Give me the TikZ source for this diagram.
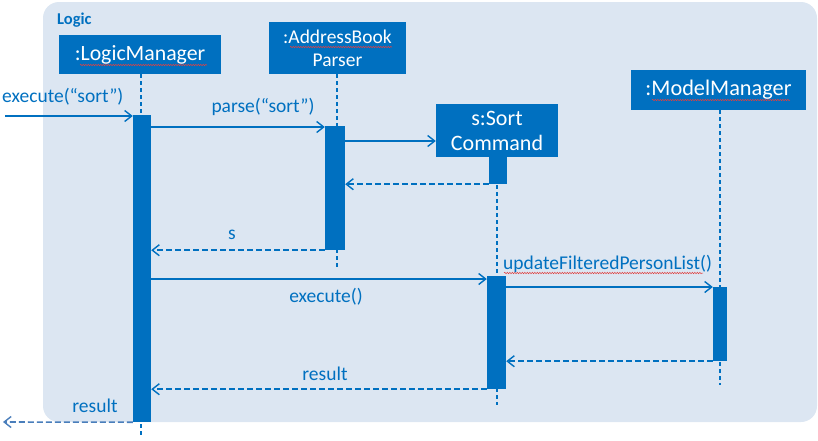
\documentclass[tikz,border=0pt]{standalone}
\usepackage{fontspec}
\setmainfont{Carlito}
\usetikzlibrary{arrows.meta,decorations.pathmorphing}
\definecolor{mblue}{HTML}{0070C0}
\definecolor{bgblue}{HTML}{DCE6F2}
\definecolor{lblue}{HTML}{4A7EBB}
\definecolor{sq}{HTML}{E04040}
\tikzset{
  obj/.style={fill=mblue, text=white, inner sep=0pt, align=center},
  act/.style={fill=mblue, inner sep=0pt},
  life/.style={draw=mblue, line width=1.5pt, dash pattern=on 4pt off 3pt},
  call/.style={draw=mblue, line width=1.6pt, -{Straight Barb[length=7pt,width=11pt,line width=1.4pt]}},
  ret/.style={draw=mblue, line width=1.6pt, dash pattern=on 6pt off 3pt, -{Straight Barb[length=7pt,width=11pt,line width=1.4pt]}},
  lbl/.style={text=mblue, inner sep=0pt, font=\fontsize{19.5}{20}\selectfont},
  squig/.style={draw=sq, line width=0.5pt, decorate, decoration={snake, segment length=2.5pt, amplitude=0.7pt}}
}
\begin{document}
\begin{tikzpicture}[x=1pt,y=-1pt]
\useasboundingbox (0,0) rectangle (818,440);
\fill[bgblue, rounded corners=16pt] (43,2) rectangle (817,422);
\node[anchor=west, text=mblue, font=\fontsize{16.5}{17}\selectfont\bfseries, inner sep=0pt] (logic) at (57,20) {Logic};
% objects
\node[obj, minimum width=162pt, minimum height=39pt, font=\fontsize{21.8}{24}\selectfont] (lm) at (140,54.5) {:LogicManager};
\node[obj, minimum width=137pt, minimum height=52pt, font=\fontsize{19.5}{23}\selectfont] (ab) at (337.5,48) {:AddressBook\\Parser};
\node[obj, minimum width=122pt, minimum height=53pt, font=\fontsize{22}{25}\selectfont] (sc) at (497,130.5) {s:Sort\\Command};
\node[obj, minimum width=175pt, minimum height=40pt, font=\fontsize{22.3}{24}\selectfont] (mm) at (718.5,90) {:ModelManager};
% lifelines
\coordinate (lmEnd) at (141,438);
\coordinate (abEnd) at (337,270);
\coordinate (scEnd) at (497,405);
\coordinate (mmEnd) at (720,385);
\draw[life] (lm.south -| lmEnd) -- (lmEnd);
\draw[life] (ab.south -| abEnd) -- (abEnd);
\draw[life] (sc.south -| scEnd) -- (scEnd);
\draw[life] (mm.south -| mmEnd) -- (mmEnd);
% activations
\node[act, minimum width=18pt, minimum height=307pt] (lmA) at (142,268.5) {};
\node[act, minimum width=20pt, minimum height=124pt] (abA) at (335,188) {};
\node[act, minimum width=18pt, minimum height=27pt] (scA1) at (498,170.5) {};
\node[act, minimum width=19pt, minimum height=113pt] (scA2) at (496.5,332.5) {};
\node[act, minimum width=14pt, minimum height=74pt] (mmA) at (720,324) {};
% squiggles
\draw[squig] (80,65) -- (207,65);
\draw[squig] (290,47) -- (392,47);
\draw[squig] (652,100) -- (790,100);
\draw[squig] (504,273) -- (703,273);
% messages
\coordinate (start) at (5,116);
\draw[call] (start) -- (lmA.west |- start);
\node[lbl, anchor=west] (l1) at (2,97) {execute(“sort”)};
\draw[call] (lmA.east |- 0,127) -- (abA.west |- 0,127);
\node[lbl] (l2) at (263,107) {parse(“sort”)};
\draw[call] (abA.east |- 0,141) -- (sc.west |- 0,141);
\draw[ret] (scA1.south west) -- (abA.east |- scA1.south);
\draw[ret] (abA.south west) -- (lmA.east |- abA.south);
\node[lbl] (l3) at (232,235) {s};
\draw[call] (lmA.east |- 0,279) -- (scA2.west |- 0,279);
\node[lbl] (l4) at (326,297) {execute()};
\draw[call] (scA2.east |- 0,287) -- (mmA.west |- 0,287);
\node[lbl, anchor=west] (l5) at (503,264) {updateFilteredPersonList()};
\draw[ret] (mmA.south west) -- (scA2.east |- mmA.south);
\draw[ret] (scA2.south west) -- (lmA.east |- scA2.south);
\node[lbl] (l6) at (325,374) {result};
\coordinate (outEnd) at (3,422);
\draw[ret, draw=lblue] (lmA.south west) -- (outEnd);
\node[lbl] (l7) at (95,406) {result};
\end{tikzpicture}
\end{document}
